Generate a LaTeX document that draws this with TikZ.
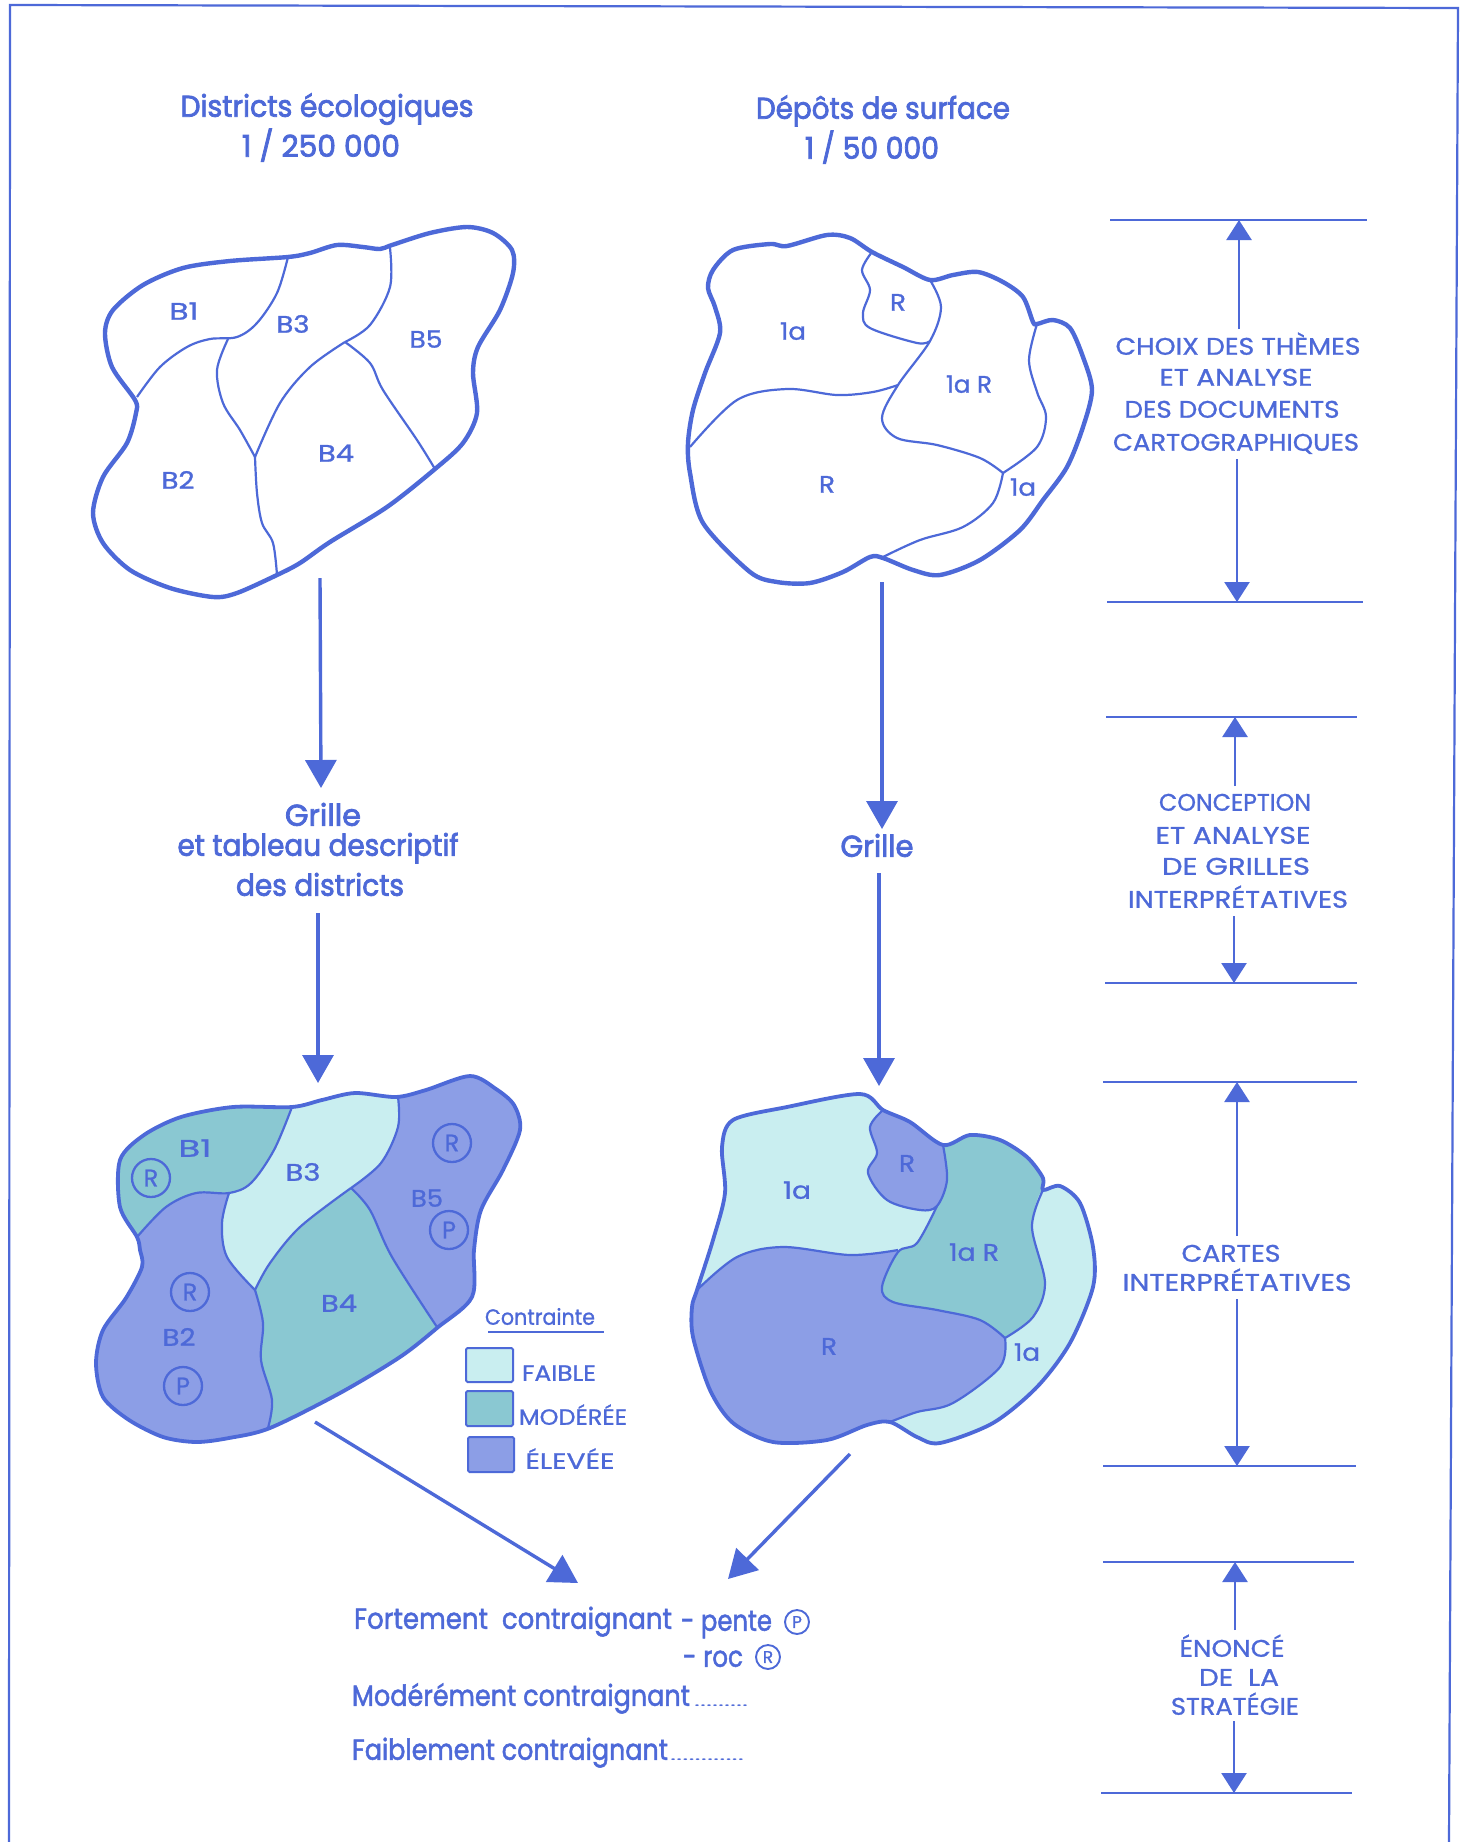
\documentclass[tikz,border=0pt]{standalone}
\usepackage{graphicx}
\usepackage{fontspec}
\setmainfont{Poppins}
\newfontfamily\headfont[FakeBold=2.6]{Poppins}
\newfontfamily\midfont[FakeBold=1.8]{Poppins}
\newfontfamily\capfont[FakeBold=1.0]{Poppins}
\usetikzlibrary{arrows.meta}
\definecolor{mainblue}{HTML}{4D69D8}
\definecolor{lightfill}{HTML}{C9EEF0}
\definecolor{midfill}{HTML}{8AC8D2}
\definecolor{highfill}{HTML}{8C9EE6}
\newcommand{\tw}[2]{\resizebox{#1pt}{\height}{#2}}
\newcommand{\fs}[1]{\fontsize{#1pt}{#1pt}\selectfont}
\tikzset{
  x=1pt,y=-1pt,
  mapedge/.style={line width=4.4pt,draw=mainblue,line join=round},
  mapedgeb/.style={line width=3.8pt,draw=mainblue,line join=round},
  innerline/.style={line width=2.2pt,draw=mainblue,line join=round},
  lab/.style={inner sep=0pt,outer sep=0pt,anchor=mid,text=mainblue,yshift=-6pt},
  maplab/.style={lab,font=\capfont\fs{24}},
  caplab/.style={lab,font=\capfont\fs{24}},
  headlab/.style={lab,font=\headfont\fs{30}},
  botlab/.style={lab,font=\midfont\fs{29}},
  leglab/.style={lab,font=\capfont\fs{22}},
  ringed/.style={circle,draw=mainblue,line width=2.3pt,minimum size=38pt,inner sep=0pt,text=mainblue,font=\capfont\fs{24}},
  ringsmall/.style={circle,draw=mainblue,line width=1.9pt,minimum size=24pt,inner sep=0pt,text=mainblue,font=\capfont\fs{17}},
  swatch/.style={draw=mainblue,line width=2pt,rounded corners=1.5pt},
  rulerline/.style={draw=mainblue,line width=1.9pt},
  framepath/.style={draw=mainblue,line width=2.2pt},
  bigarrow/.style={draw=mainblue,line width=3.4pt,-{Triangle[length=28pt,width=31pt,fill=mainblue]}},
  slimarrow/.style={draw=mainblue,line width=2.5pt,-{Triangle[length=20pt,width=25pt,fill=mainblue]}},
}
\def\curveA{plot[smooth cycle,tension=.5] coordinates {(288,257)(310,253)(337,245)(363,247)(380,249)(392,245)(430,233)(467,227)(493,233)(512,250)(513,273)(500,310)(478,347)(473,373)(477,413)(463,443)(435,469)(387,507)(330,542)(300,563)(277,575)(237,593)(213,597)(170,588)(130,570)(103,543)(93,513)(103,477)(127,443)(136,413)(135,400)(112,367)(105,333)(113,310)(143,285)(183,268)(230,261)}}
\def\curveB{plot[smooth cycle,tension=.5] coordinates {(872,252)(903,267)(930,280)(953,275)(978,272)(1003,282)(1023,297)(1033,322)(1037,324)(1053,320)(1070,328)(1083,357)(1092,390)(1083,427)(1067,467)(1043,500)(1020,530)(980,560)(940,575)(913,570)(883,558)(870,557)(843,572)(810,583)(777,582)(750,572)(703,523)(690,473)(688,443)(693,410)(705,373)(720,333)(715,307)(708,288)(713,270)(733,250)(770,244)(787,246)(827,235)(850,238)}}
\def\curveC{plot[smooth cycle,tension=.5] coordinates {(292,1107)(322,1100)(355,1093)(396,1097)(426,1090)(470,1076)(496,1089)(514,1105)(520,1130)(503,1170)(481,1210)(474,1250)(472,1297)(437,1328)(400,1357)(340,1393)(270,1428)(229,1438)(196,1442)(163,1437)(129,1420)(103,1397)(96,1363)(103,1330)(126,1298)(142,1267)(140,1250)(137,1237)(120,1207)(120,1160)(144,1135)(181,1117)(233,1107)}}
\def\curveD{plot[smooth cycle,tension=.5] coordinates {(883,1110)(910,1122)(943,1145)(970,1135)(1000,1140)(1027,1157)(1043,1178)(1043,1190)(1060,1186)(1080,1203)(1093,1247)(1093,1287)(1070,1343)(1037,1387)(993,1423)(940,1443)(917,1437)(890,1422)(867,1425)(827,1440)(773,1442)(733,1423)(710,1390)(693,1337)(692,1307)(697,1290)(713,1240)(725,1193)(722,1147)(733,1120)(787,1107)(860,1094)}}
\begin{document}
\begin{tikzpicture}
\path[use as bounding box,fill=white] (0,0) rectangle (1464,1842);
% frame
\draw[framepath] (9,1842) -- (10,5) -- (1458,8) -- (1449,1842);

% headings
\node[headlab] (h1a) at (327,108) {\tw{293}{Districts écologiques}};
\node[headlab] (h1b) at (321,148) {\tw{158}{1 / 250 000}};
\node[headlab] (h2a) at (883,110) {\tw{254}{Dépôts de surface}};
\node[headlab] (h2b) at (872,150) {\tw{134}{1 / 50 000}};

% map 1
\draw[mapedge] \curveA;
\draw[innerline] plot[smooth,tension=.55] coordinates {(137,397)(160,367)(187,347)(210,339)(237,337)(257,323)(277,293)(288,257)};
\draw[innerline] plot[smooth,tension=.55] coordinates {(228,339)(217,370)(223,403)(240,430)(255,457)};
\draw[innerline] plot[smooth,tension=.55] coordinates {(255,457)(257,493)(262,523)(273,543)(277,575)};
\draw[innerline] plot[smooth,tension=.55] coordinates {(255,457)(280,403)(310,367)(345,342)};
\draw[innerline] plot[smooth,tension=.55] coordinates {(345,342)(370,325)(390,287)(390,248)};
\draw[innerline] plot[smooth,tension=.55] coordinates {(345,342)(370,363)(383,390)(417,440)(435,469)};
\node[maplab] (a1) at (184,311) {\tw{29}{B1}};
\node[maplab] (a3) at (293,324) {\tw{33}{B3}};
\node[maplab] (a5) at (426,339) {\tw{33}{B5}};
\node[maplab] (a4) at (336,453) {\tw{36}{B4}};
\node[maplab] (a2) at (178,480) {\tw{33}{B2}};

% map 2
\draw[mapedge] \curveB;
\draw[innerline] plot[smooth,tension=.55] coordinates {(872,252)(862,270)(870,290)(863,313)(870,328)(917,343)(930,341)};
\draw[innerline] plot[smooth,tension=.55] coordinates {(930,280)(941,307)(930,341)(898,385)(882,418)(897,438)(937,445)(980,458)(1003,473)};
\draw[innerline] plot[smooth,tension=.55] coordinates {(1037,324)(1029,360)(1037,392)(1046,417)(1037,447)(1003,473)};
\draw[innerline] plot[smooth,tension=.55] coordinates {(1003,473)(993,503)(963,527)(920,540)(883,557)};
\draw[innerline] plot[smooth,tension=.55] coordinates {(690,447)(737,400)(787,389)(837,395)(873,392)(898,385)};
\node[maplab] (b1) at (793,331) {\tw{26}{1a}};
\node[maplab] (b2) at (898,302) {\tw{16}{R}};
\node[maplab] (b3) at (969,384) {\tw{46}{1a R}};
\node[maplab] (b4) at (827,484) {\tw{16}{R}};
\node[maplab] (b5) at (1023,487) {\tw{26}{1a}};

% map 3
\begin{scope}
\clip \curveC;
\fill[highfill] (50,1050) rectangle (560,1480);
\fill[midfill] plot[smooth,tension=.55] coordinates {(137,1237)(166,1207)(196,1193)(229,1193)(251,1183)(274,1150)(292,1107)} -- (292,1060) -- (60,1060) -- (60,1237) -- cycle;
\fill[lightfill] plot[smooth,tension=.55] coordinates {(292,1107)(274,1150)(251,1183)(229,1193)} -- plot[smooth,tension=.55] coordinates {(229,1193)(222,1223)(227,1257)(255,1290)} -- plot[smooth,tension=.55] coordinates {(255,1290)(270,1263)(300,1227)(351,1188)} -- plot[smooth,tension=.55] coordinates {(351,1188)(381,1163)(398,1127)(398,1097)} -- (398,1060) -- (292,1060) -- cycle;
\fill[midfill] plot[smooth,tension=.55] coordinates {(255,1290)(270,1263)(300,1227)(351,1188)} -- plot[smooth,tension=.55] coordinates {(351,1188)(370,1210)(392,1257)(437,1327)} -- (437,1470) -- (268,1470) -- plot[smooth,tension=.55] coordinates {(268,1428)(272,1400)(261,1360)(263,1323)(255,1290)} -- cycle;
\end{scope}
\draw[mapedgeb] \curveC;
\draw[innerline] plot[smooth,tension=.55] coordinates {(137,1237)(166,1207)(196,1193)(229,1193)(251,1183)(274,1150)(292,1107)};
\draw[innerline] plot[smooth,tension=.55] coordinates {(229,1193)(222,1223)(227,1257)(255,1290)};
\draw[innerline] plot[smooth,tension=.55] coordinates {(255,1290)(263,1323)(261,1360)(272,1400)(268,1428)};
\draw[innerline] plot[smooth,tension=.55] coordinates {(255,1290)(270,1263)(300,1227)(351,1188)};
\draw[innerline] plot[smooth,tension=.55] coordinates {(351,1188)(381,1163)(398,1127)(398,1097)};
\draw[innerline] plot[smooth,tension=.55] coordinates {(351,1188)(370,1210)(392,1257)(437,1327)};
\node[maplab] (c1) at (195,1148) {\tw{33}{B1}};
\node[maplab] (c3) at (303,1172) {\tw{35}{B3}};
\node[maplab] (c5) at (427,1198) {\tw{32}{B5}};
\node[maplab] (c4) at (339,1303) {\tw{36}{B4}};
\node[maplab] (c2) at (179,1337) {\tw{33}{B2}};
\node[ringed] (r1) at (151,1178) {R};
\node[ringed] (r2) at (452,1143) {R};
\node[ringed] (p1) at (449,1230) {P};
\node[ringed] (r3) at (190,1292) {R};
\node[ringed] (p2) at (183,1386) {P};

% legend
\node[leglab] (lt) at (540,1316) {\tw{110}{Contrainte}};
\draw[rulerline] (488,1332) -- (604,1332);
\draw[swatch,fill=lightfill] (466,1348) rectangle (513,1382);
\draw[swatch,fill=midfill] (466,1391) rectangle (513,1426);
\draw[swatch,fill=highfill] (468,1437) rectangle (514,1472);
\node[leglab] (l1) at (559,1372) {\tw{74}{FAIBLE}};
\node[leglab] (l2) at (573,1416) {\tw{108}{MODÉRÉE}};
\node[leglab] (l3) at (570,1460) {\tw{89}{ÉLEVÉE}};

% map 4
\begin{scope}
\clip \curveD;
\fill[lightfill] (670,1070) rectangle (1110,1460);
\fill[highfill] plot[smooth,tension=.55] coordinates {(697,1290)(737,1257)(783,1247)(850,1255)(898,1250)} -- plot[smooth,tension=.55] coordinates {(898,1252)(882,1287)(893,1302)(937,1310)(980,1320)(1005,1338)} -- plot[smooth,tension=.55] coordinates {(1005,1338)(1000,1367)(953,1403)(917,1412)(890,1422)} -- (890,1470) -- (660,1470) -- (660,1290) -- cycle;
\fill[highfill] plot[smooth,tension=.55] coordinates {(883,1110)(870,1127)(877,1153)(868,1173)(887,1200)(920,1210)(937,1206)(947,1180)(943,1145)} -- (943,1090) -- (883,1090) -- cycle;
\fill[midfill] plot[smooth,tension=.55] coordinates {(943,1145)(947,1180)(937,1206)(917,1243)(898,1252)(882,1287)(893,1302)(937,1310)(980,1320)(1005,1338)} -- plot[smooth,tension=.55] coordinates {(1005,1338)(1033,1317)(1045,1283)(1032,1227)(1039,1195)} -- (1043,1190) -- (1050,1120) -- (943,1120) -- cycle;
\end{scope}
\draw[mapedgeb] \curveD;
\draw[innerline] plot[smooth,tension=.55] coordinates {(883,1110)(870,1127)(877,1153)(868,1173)(887,1200)(920,1210)(937,1206)(947,1180)(943,1145)};
\draw[innerline] plot[smooth,tension=.55] coordinates {(937,1206)(917,1243)(898,1252)(882,1287)(893,1302)(937,1310)(980,1320)(1005,1338)};
\draw[innerline] plot[smooth,tension=.55] coordinates {(1043,1190)(1032,1227)(1045,1283)(1033,1317)(1005,1338)};
\draw[innerline] plot[smooth,tension=.55] coordinates {(697,1290)(737,1257)(783,1247)(850,1255)(898,1250)};
\draw[innerline] plot[smooth,tension=.55] coordinates {(1005,1338)(1000,1367)(953,1403)(917,1412)(890,1422)};
\node[maplab] (d1) at (797,1190) {\tw{28}{1a}};
\node[maplab] (d2) at (907,1163) {\tw{16}{R}};
\node[maplab] (d3) at (974,1252) {\tw{50}{1a R}};
\node[maplab] (d4) at (829,1346) {\tw{16}{R}};
\node[maplab] (d5) at (1027,1352) {\tw{26}{1a}};

% middle labels
\node[headlab] (g1) at (323,817) {\tw{76}{Grille}};
\node[headlab] (g2) at (318,847) {\tw{281}{et tableau descriptif}};
\node[headlab] (g3) at (320,887) {\tw{168}{des districts}};
\node[headlab] (g4) at (877,848) {\tw{73}{Grille}};

% main arrows
\coordinate (s1) at (320,578); \coordinate (e1) at (321,788);
\coordinate (s2) at (882,582); \coordinate (e2) at (882,829);
\coordinate (s3) at (318,913); \coordinate (e3) at (318,1083);
\coordinate (s4) at (879,873); \coordinate (e4) at (879,1086);
\coordinate (s5) at (315,1422); \coordinate (e5) at (578,1583);
\coordinate (s6) at (850,1454); \coordinate (e6) at (728,1579);
\draw[bigarrow] (s1) -- (e1);
\draw[bigarrow] (s2) -- (e2);
\draw[bigarrow] (s3) -- (e3);
\draw[bigarrow] (s4) -- (e4);
\draw[bigarrow] (s5) -- (e5);
\draw[bigarrow] (s6) -- (e6);

% bottom text
\node[botlab,anchor=mid west] (f1) at (354,1620) {\tw{318}{Fortement\ \ contraignant}};
\node[botlab,anchor=mid west] (f2) at (681,1622) {\tw{91}{- pente}};
\node[ringsmall] (f3) at (797,1622) {P};
\node[botlab,anchor=mid west] (f4) at (683,1658) {\tw{60}{- roc}};
\node[ringsmall] (f5) at (768,1657) {R};
\node[botlab,anchor=mid west] (f6) at (352,1697) {\tw{338}{Modérément contraignant}};
\node[botlab,anchor=mid west] (f7) at (352,1751) {\tw{316}{Faiblement contraignant}};
\node[lab,anchor=mid west,font=\fs{14}] (f8) at (694,1698) {\tw{54}{.........}};
\node[lab,anchor=mid west,font=\fs{14}] (f9) at (670,1752) {\tw{74}{............}};

% right column rules
\draw[rulerline] (1110,220) -- (1367,220);
\draw[rulerline] (1107,602) -- (1363,602);
\draw[rulerline] (1106,717) -- (1357,717);
\draw[rulerline] (1105,983) -- (1357,983);
\draw[rulerline] (1103,1082) -- (1357,1082);
\draw[rulerline] (1103,1466) -- (1356,1466);
\draw[rulerline] (1103,1562) -- (1354,1562);
\draw[rulerline] (1101,1793) -- (1352,1793);

% right column text
\node[caplab] (t11) at (1238,346) {\tw{245}{CHOIX DES THÈMES}};
\node[caplab] (t12) at (1236,377) {\tw{153}{ET ANALYSE}};
\node[caplab] (t13) at (1232,409) {\tw{215}{DES DOCUMENTS}};
\node[caplab] (t14) at (1236,442) {\tw{246}{CARTOGRAPHIQUES}};
\node[caplab] (t21) at (1235,802) {\tw{152}{CONCEPTION}};
\node[caplab] (t22) at (1233,835) {\tw{155}{ET ANALYSE}};
\node[caplab] (t23) at (1236,866) {\tw{148}{DE GRILLES}};
\node[caplab] (t24) at (1238,899) {\tw{220}{INTERPRÉTATIVES}};
\node[caplab] (t31) at (1231,1253) {\tw{99}{CARTES}};
\node[caplab] (t32) at (1237,1282) {\tw{229}{INTERPRÉTATIVES}};
\node[caplab] (t41) at (1232,1648) {\tw{105}{ÉNONCÉ}};
\node[caplab] (t42) at (1239,1677) {\tw{80}{DE\ \ LA}};
\node[caplab] (t43) at (1235,1706) {\tw{128}{STRATÉGIE}};

% right column arrows
\coordinate (u1) at (1239,329); \coordinate (v1) at (1239,220);
\coordinate (u2) at (1237,459); \coordinate (v2) at (1237,602);
\coordinate (u3) at (1235,786); \coordinate (v3) at (1235,717);
\coordinate (u4) at (1234,916); \coordinate (v4) at (1234,983);
\coordinate (u5) at (1237,1236); \coordinate (v5) at (1237,1082);
\coordinate (u6) at (1237,1299); \coordinate (v6) at (1237,1466);
\coordinate (u7) at (1235,1630); \coordinate (v7) at (1235,1562);
\coordinate (u8) at (1234,1721); \coordinate (v8) at (1234,1793);
\draw[slimarrow] (u1) -- (v1);
\draw[slimarrow] (u2) -- (v2);
\draw[slimarrow] (u3) -- (v3);
\draw[slimarrow] (u4) -- (v4);
\draw[slimarrow] (u5) -- (v5);
\draw[slimarrow] (u6) -- (v6);
\draw[slimarrow] (u7) -- (v7);
\draw[slimarrow] (u8) -- (v8);
\end{tikzpicture}
\end{document}
